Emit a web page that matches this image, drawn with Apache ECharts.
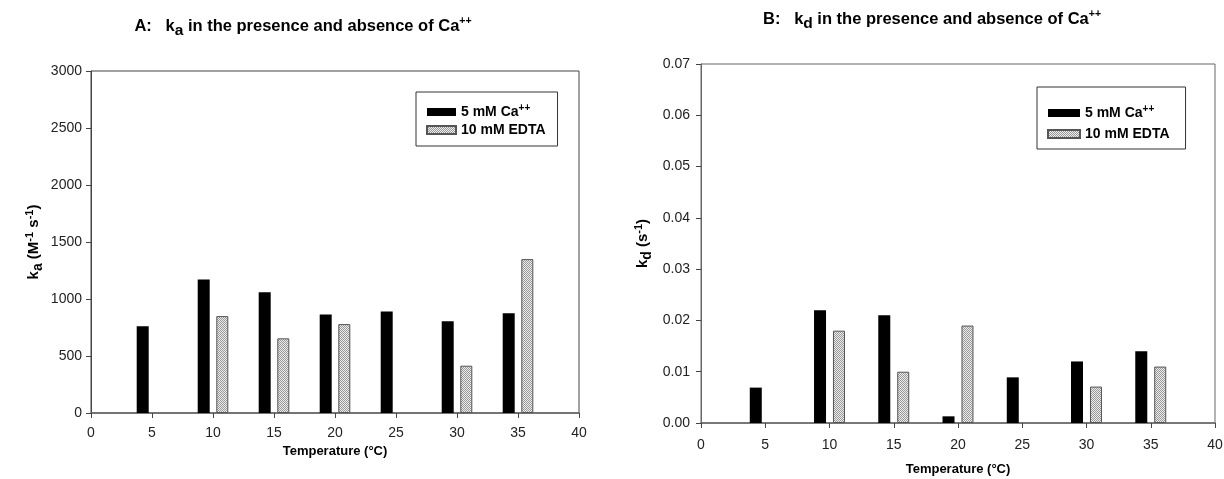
<!DOCTYPE html>
<html>
<head>
<meta charset="utf-8">
<script src="https://cdn.jsdelivr.net/npm/echarts@6/dist/echarts.min.js"></script>
<style>
  html, body { margin: 0; padding: 0; background: #fff; }
  #main { width: 1224px; height: 479px; }
</style>
</head>
<body>
<div id="main"></div>
<script>
// temperatures (°C)
var temps = [5, 10, 15, 20, 25, 30, 35]
// panel A: ka (M-1 s-1)
var kaCa = [760, 1170, 1060, 865, 890, 805, 875]
var kaEdta = [null, 850, 655, 780, null, 415, 1350]
// panel B: kd (s-1)
var kdCa = [0.0069, 0.022, 0.021, 0.0013, 0.0089, 0.012, 0.014]
var kdEdta = [null, 0.018, 0.010, 0.019, null, 0.0071, 0.011]

var nameCa = '5 mM Ca++'
var nameEdta = '10 mM EDTA'

function pairs (xs, ys) {
  return xs.map(function (x, i) { return [x, ys[i]] })
}

// stippled fill for the EDTA bars
var pat = document.createElement('canvas')
pat.width = 2
pat.height = 2
var pctx = pat.getContext('2d')
pctx.fillStyle = '#ececec'
pctx.fillRect(0, 0, 2, 2)
pctx.fillStyle = '#999'
pctx.fillRect(0, 0, 1, 1)
pctx.fillRect(1, 1, 1, 1)
var stipple = { image: pat, repeat: 'repeat' }

var font = 'Liberation Sans, Arial, sans-serif'

function titleRich (size) {
  return {
    b: { fontSize: size, fontWeight: 'bold', color: '#000', fontFamily: font, lineHeight: 18 },
    sub: { fontSize: size - 1, fontWeight: 'bold', color: '#000', fontFamily: font, lineHeight: 16, padding: [9, 0, 0, 0] },
    sup: { fontSize: size - 6, fontWeight: 'bold', color: '#000', fontFamily: font, lineHeight: 12, padding: [0, 0, 10, 0] }
  }
}

function legendOpt (left, top, pad, gap, fs, iw, ih) {
  return {
    data: [nameCa, nameEdta],
    orient: 'vertical',
    left: left,
    top: top,
    padding: pad,
    itemGap: gap,
    itemWidth: iw,
    itemHeight: ih,
    icon: 'rect',
    backgroundColor: '#fff',
    borderColor: '#333',
    borderWidth: 1,
    borderRadius: 0,
    formatter: function (n) {
      return n === nameCa ? '{t|5 mM Ca}{s|++}' : '{t|10 mM EDTA}'
    },
    textStyle: {
      rich: {
        t: { fontSize: fs, fontWeight: 'bold', color: '#000', fontFamily: font, lineHeight: 15 },
        s: { fontSize: fs - 4, fontWeight: 'bold', color: '#000', fontFamily: font, lineHeight: 10, padding: [0, 0, 8, 0] }
      }
    }
  }
}

function xAxisOpt (gridIndex, nameGap, margin) {
  return {
    gridIndex: gridIndex,
    type: 'value',
    min: 0,
    max: 40,
    interval: 5,
    name: 'Temperature (°C)',
    nameLocation: 'middle',
    nameGap: nameGap,
    nameTextStyle: { fontSize: 13, fontWeight: 'bold', color: '#000', fontFamily: font },
    axisLine: { lineStyle: { color: '#666', width: 1.5 } },
    axisTick: { show: true, length: 5, lineStyle: { color: '#444' } },
    axisLabel: { fontSize: 14, color: '#222', fontFamily: font, margin: margin },
    splitLine: { show: false }
  }
}

var yRich = {
  t: { fontSize: 15, fontWeight: 'bold', color: '#000', fontFamily: font, lineHeight: 18 },
  sub: { fontSize: 14, fontWeight: 'bold', color: '#000', fontFamily: font, lineHeight: 16, padding: [8, 0, 0, 0] },
  sup: { fontSize: 11, fontWeight: 'bold', color: '#000', fontFamily: font, lineHeight: 12, padding: [0, 0, 9, 0] }
}

var barCa = { color: '#000' }
var barEdta = { color: stipple, borderColor: '#555', borderWidth: 1 }

var chart = echarts.init(document.getElementById('main'))
chart.setOption({
  animation: false,
  backgroundColor: '#fff',
  color: ['#000', '#bbb'],
  title: [
    {
      text: '{b|A:   k}{sub|a}{b| in the presence and absence of Ca}{sup|++}',
      left: 298,
      top: 12,
      textAlign: 'center',
      textStyle: { rich: titleRich(16.5) }
    },
    {
      text: '{b|B:   k}{sub|d}{b| in the presence and absence of Ca}{sup|++}',
      left: 927,
      top: 5,
      textAlign: 'center',
      textStyle: { rich: titleRich(16.5) }
    }
  ],
  legend: [
    legendOpt(416, 92, [11, 12, 9, 10], 2, 14, 29, 8),
    legendOpt(1037, 87, [17, 16, 8, 10], 5, 14, 32, 8)
  ],
  grid: [
    { left: 91, right: 645, top: 71, bottom: 66, outerBoundsMode: 'none', show: true, borderColor: '#444', borderWidth: 1 },
    { left: 701, right: 9, top: 64, bottom: 56, outerBoundsMode: 'none', show: true, borderColor: '#666', borderWidth: 1 }
  ],
  xAxis: [
    xAxisOpt(0, 27, 13),
    xAxisOpt(1, 40, 15)
  ],
  yAxis: [
    {
      gridIndex: 0,
      type: 'value',
      min: 0,
      max: 3000,
      interval: 500,
      name: '{t|k}{sub|a}{t| (M}{sup|-1}{t| s}{sup|-1}{t|)}',
      nameLocation: 'middle',
      nameGap: 48,
      nameTextStyle: { rich: yRich },
      axisLine: { show: true, lineStyle: { color: '#444' } },
      axisTick: { show: true, length: 5, lineStyle: { color: '#444' } },
      axisLabel: {
        fontSize: 14,
        color: '#222',
        fontFamily: font,
        margin: 9,
        formatter: function (v) { return String(v) }
      },
      splitLine: { show: false }
    },
    {
      gridIndex: 1,
      type: 'value',
      min: 0,
      max: 0.07,
      interval: 0.01,
      name: '{t|k}{sub|d}{t| (s}{sup|-1}{t|)}',
      nameLocation: 'middle',
      nameGap: 49,
      nameTextStyle: { rich: yRich },
      axisLine: { show: true, lineStyle: { color: '#666' } },
      axisTick: { show: true, length: 5, lineStyle: { color: '#444' } },
      axisLabel: {
        fontSize: 14,
        color: '#222',
        fontFamily: font,
        margin: 11,
        formatter: function (v) { return v.toFixed(2) }
      },
      splitLine: { show: false }
    }
  ],
  series: [
    { name: nameCa, type: 'bar', xAxisIndex: 0, yAxisIndex: 0, data: pairs(temps, kaCa), barWidth: 12, barGap: '55%', itemStyle: barCa },
    { name: nameEdta, type: 'bar', xAxisIndex: 0, yAxisIndex: 0, data: pairs(temps, kaEdta), barWidth: 12, barGap: '55%', itemStyle: barEdta },
    { name: nameCa, type: 'bar', xAxisIndex: 1, yAxisIndex: 1, data: pairs(temps, kdCa), barWidth: 12, barGap: '58%', itemStyle: barCa },
    { name: nameEdta, type: 'bar', xAxisIndex: 1, yAxisIndex: 1, data: pairs(temps, kdEdta), barWidth: 12, barGap: '58%', itemStyle: barEdta }
  ]
})
</script>
</body>
</html>
